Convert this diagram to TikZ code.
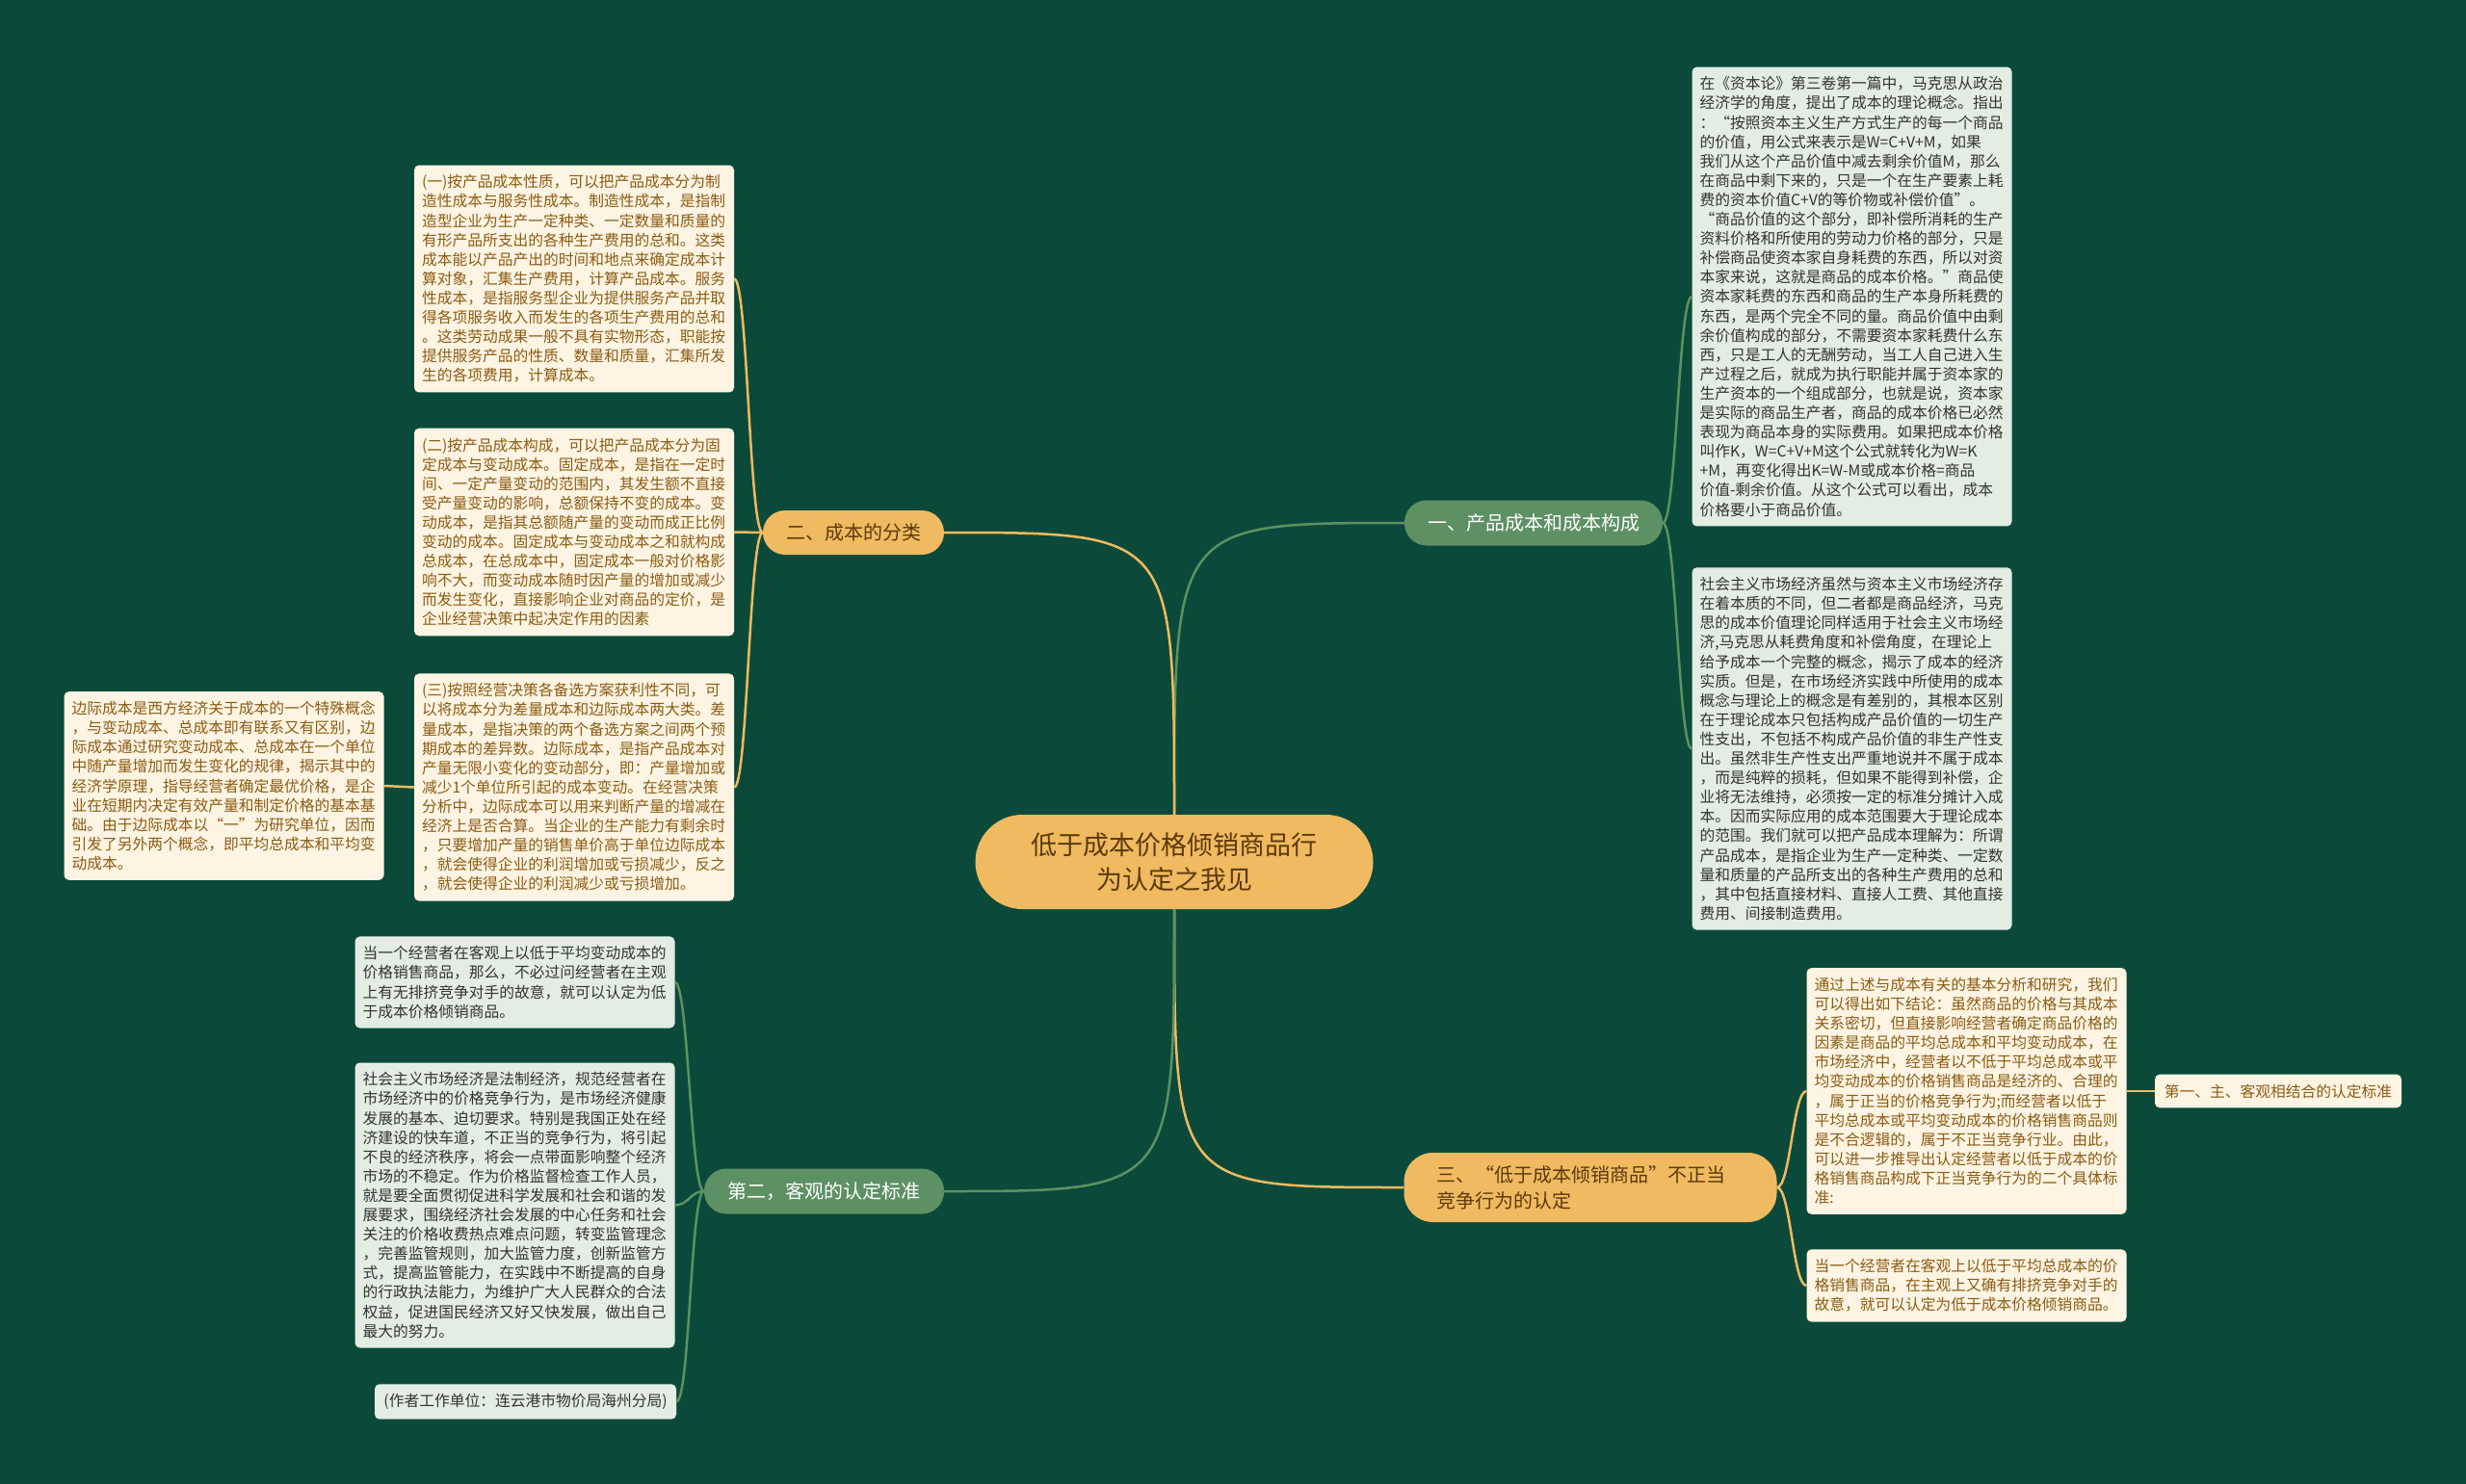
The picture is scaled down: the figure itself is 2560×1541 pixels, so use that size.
\documentclass[tikz,border=0pt]{standalone}
\usepackage{fontspec}
\setmainfont{Noto Sans CJK SC}

\definecolor{bgGreen}{HTML}{0B4A3A}
\definecolor{gold}{HTML}{F0BA60}
\definecolor{branchGreen}{HTML}{5D9163}
\definecolor{cream}{HTML}{FDF4E3}
\definecolor{paleGreen}{HTML}{E3EDE3}
\definecolor{brownText}{HTML}{8C5B12}
\definecolor{grayText}{HTML}{333333}
\definecolor{rootText}{HTML}{5B3A0C}

\newcommand{\leafsize}{\fontsize{15.75pt}{20.1pt}\selectfont}
\newcommand{\boughsize}{\fontsize{20pt}{26pt}\selectfont}

\begin{document}
\begin{tikzpicture}[x = 1pt, y = -1pt,
	bough/.style = {line width = 2.5pt},
	root/.style = {fill = gold, text = rootText, rounded corners = 49pt, minimum width = 413pt,
		minimum height = 98pt, align = center, font = {\fontsize{27pt}{36pt}\selectfont}},
	mainG/.style = {fill = branchGreen, text = white, rounded corners = 23pt, minimum height = 47pt, font = \boughsize},
	mainO/.style = {fill = gold, text = rootText, rounded corners = 23pt, minimum height = 46pt, font = \boughsize},
	leafC/.style = {fill = cream, text = brownText, rounded corners = 5pt, text width = 316pt,
		inner xsep = 8pt, inner ysep = 10pt, align = left, font = \leafsize},
	leafG/.style = {leafC, fill = paleGreen, text = grayText}]

	% Background

	\useasboundingbox (0, 0) rectangle (2560, 1541);
	\fill [bgGreen] (0, 0) rectangle (2560, 1541);

	% Root

	\node [root] (root) at (1219, 895) {低于成本价格倾销商品行\\为认定之我见};

	% Main branches

	\node [mainG, minimum width = 268pt] (yi) at (1592, 543) {一、产品成本和成本构成};
	\node [mainO, minimum width = 188pt] (er) at (886, 553) {二、成本的分类};
	\node [mainO, minimum width = 387pt, minimum height = 72pt, rounded corners = 30pt,
		text width = 320pt, align = left, font = {\fontsize{20pt}{27pt}\selectfont}] (san) at (1651, 1233)
		{三、“低于成本倾销商品”不正当\\竞争行为的认定};
	\node [mainG, minimum width = 249pt] (dier) at (855.5, 1237) {第二，客观的认定标准};

	% Leaves of 一

	\node [leafG] (r1) at (1922.5, 308) {在《资本论》第三卷第一篇中，马克思从政治\\
		经济学的角度，提出了成本的理论概念。指出\\
		：“按照资本主义生产方式生产的每一个商品\\
		的价值，用公式来表示是W=C+V+M，如果\\
		我们从这个产品价值中减去剩余价值M，那么\\
		在商品中剩下来的，只是一个在生产要素上耗\\
		费的资本价值C+V的等价物或补偿价值”。\\
		“商品价值的这个部分，即补偿所消耗的生产\\
		资料价格和所使用的劳动力价格的部分，只是\\
		补偿商品使资本家自身耗费的东西，所以对资\\
		本家来说，这就是商品的成本价格。”商品使\\
		资本家耗费的东西和商品的生产本身所耗费的\\
		东西，是两个完全不同的量。商品价值中由剩\\
		余价值构成的部分，不需要资本家耗费什么东\\
		西，只是工人的无酬劳动，当工人自己进入生\\
		产过程之后，就成为执行职能并属于资本家的\\
		生产资本的一个组成部分，也就是说，资本家\\
		是实际的商品生产者，商品的成本价格已必然\\
		表现为商品本身的实际费用。如果把成本价格\\
		叫作K，W=C+V+M这个公式就转化为W=K\\
		+M，再变化得出K=W-M或成本价格=商品\\
		价值-剩余价值。从这个公式可以看出，成本\\
		价格要小于商品价值。};
	\node [leafG] (r2) at (1922.5, 777.5) {社会主义市场经济虽然与资本主义市场经济存\\
		在着本质的不同，但二者都是商品经济，马克\\
		思的成本价值理论同样适用于社会主义市场经\\
		济,马克思从耗费角度和补偿角度，在理论上\\
		给予成本一个完整的概念，揭示了成本的经济\\
		实质。但是，在市场经济实践中所使用的成本\\
		概念与理论上的概念是有差别的，其根本区别\\
		在于理论成本只包括构成产品价值的一切生产\\
		性支出，不包括不构成产品价值的非生产性支\\
		出。虽然非生产性支出严重地说并不属于成本\\
		，而是纯粹的损耗，但如果不能得到补偿，企\\
		业将无法维持，必须按一定的标准分摊计入成\\
		本。因而实际应用的成本范围要大于理论成本\\
		的范围。我们就可以把产品成本理解为：所谓\\
		产品成本，是指企业为生产一定种类、一定数\\
		量和质量的产品所支出的各种生产费用的总和\\
		，其中包括直接材料、直接人工费、其他直接\\
		费用、间接制造费用。};

	% Leaves of 二

	\node [leafC] (l1) at (596, 289.5) {(一)按产品成本性质，可以把产品成本分为制\\
		造性成本与服务性成本。制造性成本，是指制\\
		造型企业为生产一定种类、一定数量和质量的\\
		有形产品所支出的各种生产费用的总和。这类\\
		成本能以产品产出的时间和地点来确定成本计\\
		算对象，汇集生产费用，计算产品成本。服务\\
		性成本，是指服务型企业为提供服务产品并取\\
		得各项服务收入而发生的各项生产费用的总和\\
		。这类劳动成果一般不具有实物形态，职能按\\
		提供服务产品的性质、数量和质量，汇集所发\\
		生的各项费用，计算成本。};
	\node [leafC] (l2) at (596, 552.5) {(二)按产品成本构成，可以把产品成本分为固\\
		定成本与变动成本。固定成本，是指在一定时\\
		间、一定产量变动的范围内，其发生额不直接\\
		受产量变动的影响，总额保持不变的成本。变\\
		动成本，是指其总额随产量的变动而成正比例\\
		变动的成本。固定成本与变动成本之和就构成\\
		总成本，在总成本中，固定成本一般对价格影\\
		响不大，而变动成本随时因产量的增加或减少\\
		而发生变化，直接影响企业对商品的定价，是\\
		企业经营决策中起决定作用的因素};
	\node [leafC] (l3) at (596, 817.5) {(三)按照经营决策各备选方案获利性不同，可\\
		以将成本分为差量成本和边际成本两大类。差\\
		量成本，是指决策的两个备选方案之间两个预\\
		期成本的差异数。边际成本，是指产品成本对\\
		产量无限小变化的变动部分，即：产量增加或\\
		减少1个单位所引起的成本变动。在经营决策\\
		分析中，边际成本可以用来判断产量的增减在\\
		经济上是否合算。当企业的生产能力有剩余时\\
		，只要增加产量的销售单价高于单位边际成本\\
		，就会使得企业的利润增加或亏损减少，反之\\
		，就会使得企业的利润减少或亏损增加。};
	\node [leafC] (l3a) at (232.5, 816) {边际成本是西方经济关于成本的一个特殊概念\\
		，与变动成本、总成本即有联系又有区别，边\\
		际成本通过研究变动成本、总成本在一个单位\\
		中随产量增加而发生变化的规律，揭示其中的\\
		经济学原理，指导经营者确定最优价格，是企\\
		业在短期内决定有效产量和制定价格的基本基\\
		础。由于边际成本以“一”为研究单位，因而\\
		引发了另外两个概念，即平均总成本和平均变\\
		动成本。};

	% Leaves of 三

	\node [leafC] (r3) at (2041.5, 1133) {通过上述与成本有关的基本分析和研究，我们\\
		可以得出如下结论：虽然商品的价格与其成本\\
		关系密切，但直接影响经营者确定商品价格的\\
		因素是商品的平均总成本和平均变动成本，在\\
		市场经济中，经营者以不低于平均总成本或平\\
		均变动成本的价格销售商品是经济的、合理的\\
		，属于正当的价格竞争行为;而经营者以低于\\
		平均总成本或平均变动成本的价格销售商品则\\
		是不合逻辑的，属于不正当竞争行业。由此，\\
		可以进一步推导出认定经营者以低于成本的价\\
		格销售商品构成下正当竞争行为的二个具体标\\
		准:};
	\node [leafC, text width = , minimum width = 256pt, align = center] (r3a) at (2365, 1133)
		{第一、主、客观相结合的认定标准};
	\node [leafC] (r4) at (2041.5, 1335) {当一个经营者在客观上以低于平均总成本的价\\
		格销售商品，在主观上又确有排挤竞争对手的\\
		故意，就可以认定为低于成本价格倾销商品。};

	% Leaves of 第二

	\node [leafG] (b1) at (534.5, 1020) {当一个经营者在客观上以低于平均变动成本的\\
		价格销售商品，那么，不必过问经营者在主观\\
		上有无排挤竞争对手的故意，就可以认定为低\\
		于成本价格倾销商品。};
	\node [leafG] (b2) at (534.5, 1251.5) {社会主义市场经济是法制经济，规范经营者在\\
		市场经济中的价格竞争行为，是市场经济健康\\
		发展的基本、迫切要求。特别是我国正处在经\\
		济建设的快车道，不正当的竞争行为，将引起\\
		不良的经济秩序，将会一点带面影响整个经济\\
		市场的不稳定。作为价格监督检查工作人员，\\
		就是要全面贯彻促进科学发展和社会和谐的发\\
		展要求，围绕经济社会发展的中心任务和社会\\
		关注的价格收费热点难点问题，转变监管理念\\
		，完善监管规则，加大监管力度，创新监管方\\
		式，提高监管能力，在实践中不断提高的自身\\
		的行政执法能力，为维护广大人民群众的合法\\
		权益，促进国民经济又好又快发展，做出自己\\
		最大的努力。};
	\node [leafG, text width = , minimum width = 313pt, align = center] (b3) at (545.5, 1455.5)
		{(作者工作单位：连云港市物价局海州分局)};

	% Root to branches

	\draw [bough, branchGreen] (root.north) .. controls (1219, 543) .. (yi.west);
	\draw [bough, gold] (root.north) .. controls (1219, 553) .. (er.east);
	\draw [bough, gold] (root.south) .. controls (1219, 1233) .. (san.west);
	\draw [bough, branchGreen] (root.south) .. controls (1219, 1237) .. (dier.east);

	% Branches to leaves

	\begin{scope}[bough, branchGreen]
		\foreach \leaf in {r1, r2}
			\draw (yi.east) .. controls +(14, 0) and +(-14, 0) .. (\leaf.west);
		\foreach \leaf in {b1, b2, b3}
			\draw (dier.west) .. controls +(-14, 0) and +(14, 0) .. (\leaf.east);
	\end{scope}

	\begin{scope}[bough, gold]
		\foreach \leaf in {l1, l2, l3}
			\draw (er.west) .. controls +(-14, 0) and +(14, 0) .. (\leaf.east);
		\draw (l3.west) -- (l3a.east);
		\foreach \leaf in {r3, r4}
			\draw (san.east) .. controls +(14, 0) and +(-14, 0) .. (\leaf.west);
		\draw (r3.east) -- (r3a.west);
	\end{scope}

\end{tikzpicture}
\end{document}
